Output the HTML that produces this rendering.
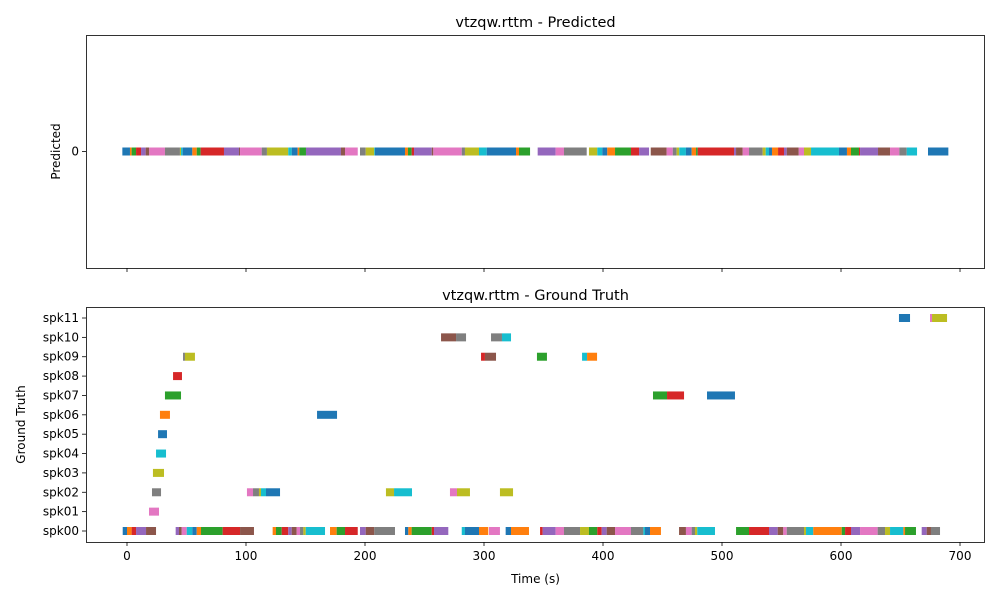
<!DOCTYPE html>
<html><head><meta charset="utf-8"><style>
body{margin:0;background:#fff;}
svg text{font-family:"DejaVu Sans","Liberation Sans",sans-serif;fill:#000;}
</style></head><body>
<svg id="chart" width="1000" height="600" xmlns="http://www.w3.org/2000/svg"></svg>
<script>
const palette=["#1f77b4","#ff7f0e","#2ca02c","#d62728","#9467bd","#8c564b","#e377c2","#7f7f7f","#bcbd22","#17becf"];
// [start, end, colorIndex]
const predictedSegments=[[-3.9,2.5,0],[2.5,3.9,1],[3.9,7.6,2],[7.6,11.8,3],[11.8,15.7,4],[15.7,18.7,5],[18.7,31.9,6],[31.9,44.5,7],[44.5,45.4,8],[45.4,46.8,9],[46.8,54.9,0],[54.9,58.6,1],[58.6,61.9,2],[61.9,81.5,3],[81.5,94.1,4],[94.1,95.0,5],[95.0,113.2,6],[113.2,117.6,7],[117.6,135.5,8],[135.5,138.4,9],[138.4,143.4,0],[143.4,144.8,1],[144.8,150.4,2],[150.4,179.8,4],[179.8,183.2,5],[183.2,193.9,6],[195.8,200.6,7],[200.6,207.8,8],[207.8,208.4,9],[208.4,233.6,0],[233.6,236.1,1],[236.1,239.2,2],[239.2,241.2,3],[241.2,256.1,4],[256.1,257.4,5],[257.4,281.3,6],[281.3,284.0,7],[284.0,295.8,8],[295.8,302.3,9],[302.3,326.9,0],[326.9,329.4,1],[329.4,338.7,2],[345.1,360.2,4],[360.2,367.2,6],[367.2,386.3,7],[388.2,395.2,8],[395.2,399.4,9],[399.4,403.6,0],[403.6,410.1,1],[410.1,423.5,2],[423.5,430.3,3],[430.3,438.7,4],[440.1,453.5,5],[453.5,458.6,6],[458.6,461.9,7],[461.9,464.1,8],[464.1,469.7,9],[469.7,474.5,0],[474.5,478.2,1],[478.2,479.6,2],[479.6,510.1,3],[510.1,511.8,4],[511.8,517.4,5],[517.4,522.7,6],[522.7,534.2,7],[534.2,536.7,8],[536.7,539.5,9],[539.5,542.0,0],[542.0,547.1,1],[547.1,552.1,3],[552.1,554.4,4],[554.4,564.5,5],[564.5,568.9,6],[568.9,574.8,8],[574.8,598.3,9],[598.3,605.0,0],[605.0,608.4,1],[608.4,615.1,2],[615.1,616.0,3],[616.0,631.1,4],[631.1,641.2,5],[641.2,649.0,6],[649.0,655.2,7],[655.2,663.9,9],[673.1,690.2,0]];
const speakers=["spk00","spk01","spk02","spk03","spk04","spk05","spk06","spk07","spk08","spk09","spk10","spk11"];
// [speakerIndex, start, end, colorIndex]
const truthSegments=[[0,-3.6,0,0],[0,0,3.9,1],[0,3.9,7.6,3],[0,7.6,16.0,4],[0,16.0,24.4,5],[0,40.9,43.7,4],[0,43.7,46.0,5],[0,46.0,50.2,6],[0,50.2,54.9,9],[0,54.9,58.6,0],[0,58.6,62.2,1],[0,62.2,80.4,2],[0,80.4,95.0,3],[0,95.0,106.7,5],[0,122.4,125.2,1],[0,125.2,130.0,2],[0,130.0,135.5,3],[0,135.5,138.4,4],[0,138.4,142.6,5],[0,142.6,145.4,6],[0,145.4,148.2,7],[0,148.2,150.2,8],[0,150.2,166.4,9],[0,170.6,176.2,1],[0,176.2,183.2,2],[0,183.2,193.9,3],[0,195.8,200.6,4],[0,200.6,207.8,5],[0,207.8,225.2,7],[0,233.6,236.4,0],[0,236.4,239.2,1],[0,239.2,256.1,2],[0,256.1,258.0,3],[0,258.0,270.0,4],[0,281.3,284.0,9],[0,284.0,295.8,0],[0,295.8,303.6,1],[0,304.2,313.4,6],[0,318.2,322.7,0],[0,322.7,337.8,1],[0,347.1,349.3,3],[0,349.3,360.2,4],[0,360.2,367.2,6],[0,367.2,380.7,7],[0,380.7,388.2,8],[0,388.2,395.2,2],[0,395.2,398.9,3],[0,398.9,403.1,4],[0,403.1,410.1,5],[0,410.1,423.5,6],[0,423.5,433.9,7],[0,433.9,435.3,9],[0,435.3,439.5,0],[0,439.5,448.7,1],[0,463.9,469.7,5],[0,469.7,474.5,6],[0,474.5,477.3,7],[0,477.3,479.2,8],[0,479.2,494.1,9],[0,511.8,522.7,2],[0,522.7,539.5,3],[0,539.5,546.8,4],[0,546.8,551.5,5],[0,551.5,554.4,6],[0,554.4,568.9,7],[0,568.9,570.6,8],[0,570.6,576.7,9],[0,576.7,600.6,1],[0,600.6,603.4,2],[0,603.4,608.4,3],[0,608.4,616.0,4],[0,616.0,630.8,6],[0,630.8,637.0,7],[0,637.0,641.2,8],[0,641.2,652.4,9],[0,652.4,653.8,1],[0,653.8,663.0,2],[0,667.8,672.0,4],[0,672.0,675.6,5],[0,675.6,683.2,7],
[1,18.5,26.9,6],
[2,21.0,28.6,7],[2,100.8,105.9,6],[2,105.9,110.9,7],[2,110.9,112.6,8],[2,112.6,116.8,9],[2,116.8,128.6,0],[2,217.6,224.4,8],[2,224.4,239.5,9],[2,271.4,277.3,6],[2,277.3,288.2,8],[2,313.4,324.4,8],
[3,21.8,31.1,8],[4,24.4,32.8,9],[5,26.1,33.6,0],[6,27.7,36.1,1],[6,159.7,176.5,0],
[7,31.9,45.4,2],[7,442.0,453.8,2],[7,453.8,468.1,3],[7,487.4,510.9,0],
[8,38.7,46.2,3],
[9,47.1,48.7,7],[9,48.7,57.1,8],[9,297.5,300.8,3],[9,300.8,310.1,5],[9,344.5,352.9,2],[9,382.4,386.6,9],[9,386.6,395.0,1],
[10,263.9,276.5,5],[10,276.5,284.9,7],[10,305.9,315.1,7],[10,315.1,322.7,9],
[11,648.7,658.0,0],[11,674.8,676.5,6],[11,676.5,689.1,8]];
const xTicks=[0,100,200,300,400,500,600,700];

const NS="http://www.w3.org/2000/svg";
const svg=document.getElementById('chart');
const L=86,R=985,xMin=-34.45,xMax=721.0;
const X=v=>L+(v-xMin)/(xMax-xMin)*(R-L);
function el(tag,attrs,parent){const e=document.createElementNS(NS,tag);for(const k in attrs)e.setAttribute(k,attrs[k]);(parent||svg).appendChild(e);return e;}
function txt(s,attrs){const t=el('text',attrs);t.textContent=s;return t;}

// top panel
const T1=35,B1=268,yc1=(T1+B1)/2;
const g1=el('g',{});


predictedSegments.forEach(s=>{
  const r=el('rect',{x:X(s[0]),y:yc1-4,width:Math.max(X(s[1])-X(s[0]),0.5),height:8,fill:palette[s[2]]},g1);
  
  
});
const f1=el('rect',{x:L+0.5,y:T1+0.5,width:R-L-1,height:B1-T1,fill:'none',stroke:'#000','stroke-width':0.8});


xTicks.forEach(v=>{el('line',{x1:X(v),x2:X(v),y1:B1,y2:B1+4,stroke:'#000','stroke-width':0.8});});
el('line',{x1:L,x2:L-4,y1:yc1,y2:yc1,stroke:'#000','stroke-width':0.8});
const yt=txt('0',{x:L-7,y:yc1+4,'font-size':12,'text-anchor':'end'});


const t1=txt('vtzqw.rttm - Predicted',{x:(L+R)/2,y:27,'font-size':14.5,'text-anchor':'middle'});


const yl1=txt('Predicted',{x:0,y:0,'font-size':12,'text-anchor':'middle',transform:`translate(60,${yc1}) rotate(-90)`});



// bottom panel
const T2=307,B2=542;
const Y=i=>531-i*(531-318)/11;
const g2=el('g',{});


truthSegments.forEach(s=>{
  const r=el('rect',{x:X(s[1]),y:Y(s[0])-4,width:Math.max(X(s[2])-X(s[1]),0.5),height:8,fill:palette[s[3]]},g2);
  
  
});
const f2=el('rect',{x:L+0.5,y:T2+0.5,width:R-L-1,height:B2-T2,fill:'none',stroke:'#000','stroke-width':0.8});


xTicks.forEach(v=>{
  el('line',{x1:X(v),x2:X(v),y1:B2,y2:B2+4,stroke:'#000','stroke-width':0.8});
  const t=txt(String(v),{x:X(v),y:B2+18,'font-size':12,'text-anchor':'middle'});
  
  
});
speakers.forEach((s,i)=>{
  el('line',{x1:L,x2:L-4,y1:Y(i),y2:Y(i),stroke:'#000','stroke-width':0.8});
  const t=txt(s,{x:L-7,y:Y(i)+4,'font-size':12,'text-anchor':'end'});
  
  
});
const t2=txt('vtzqw.rttm - Ground Truth',{x:(L+R)/2,y:300,'font-size':14.5,'text-anchor':'middle'});


const yl2=txt('Ground Truth',{x:0,y:0,'font-size':12,'text-anchor':'middle',transform:`translate(25,${(T2+B2)/2}) rotate(-90)`});


const xl=txt('Time (s)',{x:(L+R)/2,y:583,'font-size':12,'text-anchor':'middle'});


</script>
</body></html>
